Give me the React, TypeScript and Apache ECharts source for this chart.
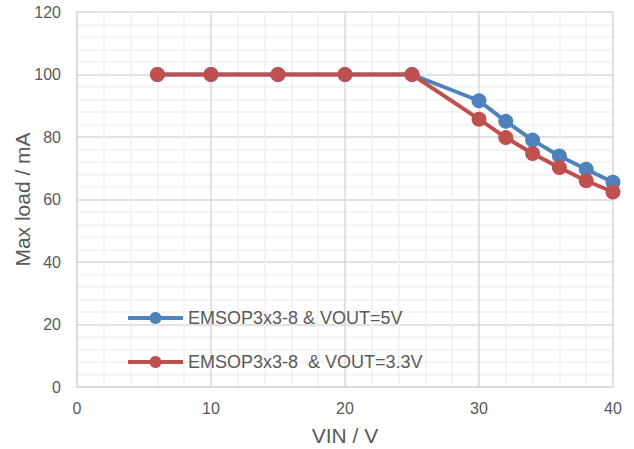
import React, { useEffect, useRef } from "react";
import * as echarts from "echarts";

const vin = [6, 10, 15, 20, 25, 30, 32, 34, 36, 38, 40];
const load5V = [100, 100, 100, 100, 100, 91.6, 85, 79, 73.9, 69.7, 65.5];
const load33V = [100, 100, 100, 100, 100, 85.7, 79.8, 74.7, 70.2, 66, 62.4];
const seriesNames = ["EMSOP3x3-8 & VOUT=5V", "EMSOP3x3-8  & VOUT=3.3V"];

const FONT = "'Liberation Sans', Arial, sans-serif";
const TXT = "#595959";

export default function App() {
  const ref = useRef<HTMLDivElement>(null);
  useEffect(() => {
    const chart = echarts.init(ref.current!, undefined, { renderer: "svg" });
    const mk = (ys: number[]) => vin.map((x, i) => [x, ys[i]]);
    chart.setOption({
      animation: false,
      backgroundColor: "#fff",
      textStyle: { fontFamily: FONT },
      grid: { left: 77, right: 21, top: 12, bottom: 62, outerBoundsMode: "none", containLabel: false },
      legend: {
        orient: "vertical",
        left: 121,
        top: 304,
        itemWidth: 55,
        itemHeight: 15,
        itemGap: 26,
        lineStyle: { width: 4 },
        textStyle: { fontSize: 18, color: TXT, fontFamily: FONT },
        data: seriesNames,
      },
      xAxis: {
        type: "value",
        min: 0,
        max: 40,
        interval: 10,
        name: "VIN / V",
        nameLocation: "middle",
        nameGap: 38,
        nameMoveOverlap: false,
        nameTextStyle: { fontSize: 21, color: TXT, fontFamily: FONT },
        axisLine: { show: true, lineStyle: { color: "#d9d9d9", width: 1.5 } },
        axisTick: { show: false },
        axisLabel: { fontSize: 16, color: TXT, margin: 13, fontFamily: FONT },
        splitLine: { show: true, lineStyle: { color: "#d9d9d9", width: 1.5 } },
        minorTick: { show: false, splitNumber: 5 },
        minorSplitLine: { show: true, lineStyle: { color: "#f0f0f0", width: 1.5 } },
      },
      yAxis: {
        type: "value",
        min: 0,
        max: 120,
        interval: 20,
        name: "Max load / mA",
        nameLocation: "middle",
        nameGap: 44,
        nameMoveOverlap: false,
        nameTextStyle: { fontSize: 21, color: TXT, fontFamily: FONT },
        axisLine: { show: true, lineStyle: { color: "#d9d9d9", width: 1.5 } },
        axisTick: { show: false },
        axisLabel: { fontSize: 16, color: TXT, margin: 16, fontFamily: FONT },
        splitLine: { show: true, lineStyle: { color: "#d9d9d9", width: 1.5 } },
        minorTick: { show: false, splitNumber: 5 },
        minorSplitLine: { show: true, lineStyle: { color: "#f0f0f0", width: 1.5 } },
      },
      series: [
        {
          name: seriesNames[0],
          type: "line",
          data: mk(load5V),
          symbol: "circle",
          symbolSize: 15,
          color: "#4F81BD",
          lineStyle: { width: 4, color: "#4F81BD" },
          itemStyle: { color: "#4F81BD" },
        },
        {
          name: seriesNames[1],
          type: "line",
          data: mk(load33V),
          symbol: "circle",
          symbolSize: 15,
          color: "#C0504D",
          lineStyle: { width: 4, color: "#C0504D" },
          itemStyle: { color: "#C0504D" },
        },
      ],
    });
    return () => chart.dispose();
  }, []);
  return <div ref={ref} style={{ width: 634, height: 449, position: "absolute", left: 0, top: 0 }} />;
}
